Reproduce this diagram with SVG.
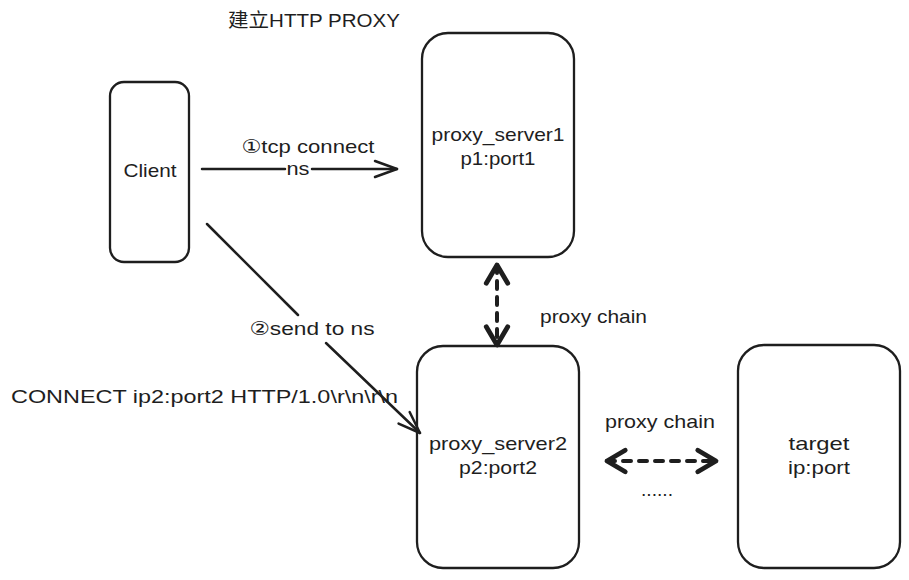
<svg xmlns="http://www.w3.org/2000/svg" width="909" height="580" viewBox="0 0 909 580">
<style>
.box{fill:#fff;stroke:#1e1e1e;stroke-width:2.3}
.t{font-family:"Liberation Sans","Noto Sans CJK SC",sans-serif;font-size:19px;fill:#1e1e1e;text-anchor:middle}
.tl{font-family:"Liberation Sans","Noto Sans CJK SC",sans-serif;font-size:19px;fill:#1e1e1e}
.num{font-family:"DejaVu Sans","Noto Sans CJK SC",sans-serif;fill:#1e1e1e}
.ln{fill:none;stroke:#1e1e1e;stroke-width:2.5;stroke-linecap:round}
.dash{fill:none;stroke:#1e1e1e;stroke-width:4;stroke-dasharray:8 8;stroke-linecap:round}
</style>
<defs>
<marker id="open" markerUnits="userSpaceOnUse" markerWidth="30" markerHeight="30" refX="0" refY="0" viewBox="-26 -13 30 26" orient="auto" overflow="visible">
<path d="M -22 -8 L 0 0 L -22 8" fill="none" stroke="#1e1e1e" stroke-width="2.5" stroke-linecap="round" stroke-linejoin="round"/>
</marker>
<marker id="thick" markerUnits="userSpaceOnUse" markerWidth="30" markerHeight="30" refX="0" refY="0" viewBox="-22 -14 26 28" orient="auto-start-reverse" overflow="visible">
<path d="M -17 -10 L 0 0 L -17 10" fill="none" stroke="#1e1e1e" stroke-width="4.5" stroke-dasharray="none" stroke-linecap="round" stroke-linejoin="round"/>
</marker>
</defs>

<text class="tl" x="228" y="27" font-size="16" textLength="172" lengthAdjust="spacingAndGlyphs">建立HTTP PROXY</text>

<g id="client">
<rect class="box" x="110" y="82" width="79" height="180" rx="14"/>
<text class="t" x="150" y="177" textLength="53" lengthAdjust="spacingAndGlyphs">Client</text>
</g>

<g id="proxy_server1">
<rect class="box" x="422" y="33" width="152" height="224" rx="26"/>
<text class="t" x="498" y="141" textLength="133" lengthAdjust="spacingAndGlyphs">proxy_server1</text>
<text class="t" x="498" y="165" textLength="75" lengthAdjust="spacingAndGlyphs">p1:port1</text>
</g>

<g id="proxy_server2">
<rect class="box" x="417" y="346" width="162" height="222" rx="26"/>
<text class="t" x="498" y="450" textLength="138" lengthAdjust="spacingAndGlyphs">proxy_server2</text>
<text class="t" x="498" y="474" textLength="78" lengthAdjust="spacingAndGlyphs">p2:port2</text>
</g>

<g id="target">
<rect class="box" x="738" y="345" width="162" height="223" rx="26"/>
<text class="t" x="819" y="450" textLength="61" lengthAdjust="spacingAndGlyphs">target</text>
<text class="t" x="819" y="474" textLength="62" lengthAdjust="spacingAndGlyphs">ip:port</text>
</g>

<g id="connectors">
<path class="ln" d="M 202 169 L 285 169 M 312 169 L 397 169" marker-end="url(#open)"/>
<text class="t" x="308" y="153" textLength="133" lengthAdjust="spacingAndGlyphs"><tspan class="num">①</tspan>tcp connect</text>
<text class="t" x="298" y="175" textLength="23" lengthAdjust="spacingAndGlyphs">ns</text>

<path class="ln" d="M 207 224 L 298 315"/>
<path class="ln" d="M 326 343 L 420 433" marker-end="url(#open)"/>
<text class="t" x="312" y="335" textLength="125" lengthAdjust="spacingAndGlyphs"><tspan class="num">②</tspan>send to ns</text>
<text class="tl" x="11" y="403" textLength="387" lengthAdjust="spacingAndGlyphs">CONNECT ip2:port2 HTTP/1.0\r\n\r\n</text>

<path class="dash" d="M 497 265 L 497 345" marker-start="url(#thick)" marker-end="url(#thick)"/>
<text class="tl" x="540" y="323" textLength="107" lengthAdjust="spacingAndGlyphs">proxy chain</text>

<path class="dash" d="M 607 461 L 716 461" marker-start="url(#thick)" marker-end="url(#thick)"/>
<text class="tl" x="605" y="428" textLength="110" lengthAdjust="spacingAndGlyphs">proxy chain</text>
<text class="tl" x="641" y="496" textLength="32" lengthAdjust="spacingAndGlyphs">......</text>
</g>
</svg>
